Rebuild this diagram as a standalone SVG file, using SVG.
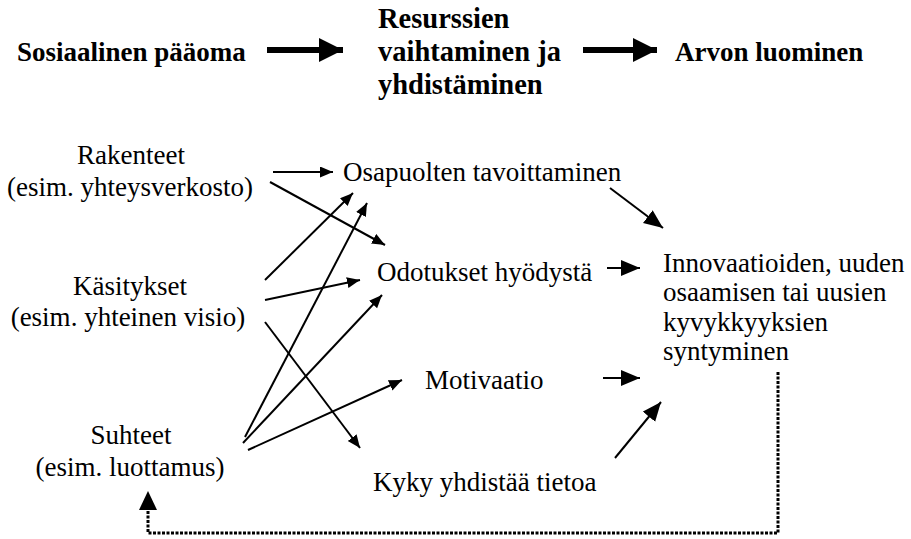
<svg xmlns="http://www.w3.org/2000/svg" width="911" height="539" viewBox="0 0 911 539">
  <style>
    .t { font-family: "Liberation Serif", "Times New Roman", serif; font-size: 27px; fill: #000; }
    .b { font-weight: bold; }
    .m { font-size: 28.5px; }
    .c { text-anchor: middle; }
    .e { stroke: #000; stroke-width: 2; fill: none; }
    .es { marker-end: url(#hs); }
    .el { marker-end: url(#hl); }
    .big { stroke: #000; stroke-width: 6; fill: none; marker-end: url(#hb); }
    .dot { stroke: #000; stroke-width: 3; fill: none; stroke-dasharray: 3 1.5; }
  </style>
  <defs>
    <marker id="hs" markerUnits="userSpaceOnUse" markerWidth="15" markerHeight="13" refX="13" refY="5.5" orient="auto">
      <path d="M0,0 L13,5.5 L0,11 Z" fill="#000"/>
    </marker>
    <marker id="hl" markerUnits="userSpaceOnUse" markerWidth="22" markerHeight="20" refX="19" refY="8" orient="auto">
      <path d="M0,0 L19,8 L0,16 Z" fill="#000"/>
    </marker>
    <marker id="hb" markerUnits="userSpaceOnUse" markerWidth="26" markerHeight="26" refX="24" refY="12" orient="auto">
      <path d="M0,0 L24,12 L0,24 Z" fill="#000"/>
    </marker>
  </defs>

  <!-- process header -->
  <g id="header">
    <text class="t b" x="17" y="61">Sosiaalinen pääoma</text>
    <text class="t b m" x="378" y="28">Resurssien</text>
    <text class="t b m" x="378" y="61">vaihtaminen ja</text>
    <text class="t b m" x="378" y="94">yhdistäminen</text>
    <text class="t b" x="675" y="61">Arvon luominen</text>
    <line class="big" x1="267" y1="50" x2="343" y2="50"/>
    <line class="big" x1="583" y1="50" x2="657" y2="50"/>
  </g>

  <!-- dimensions of social capital -->
  <g id="rakenteet">
    <text class="t c" x="131" y="164">Rakenteet</text>
    <text class="t c" x="130" y="196">(esim. yhteysverkosto)</text>
  </g>
  <g id="kasitykset">
    <text class="t c" x="130" y="295">Käsitykset</text>
    <text class="t c" x="128" y="326">(esim. yhteinen visio)</text>
  </g>
  <g id="suhteet">
    <text class="t c" x="131" y="444">Suhteet</text>
    <text class="t c" x="130" y="476">(esim. luottamus)</text>
  </g>

  <!-- mechanisms -->
  <g id="osapuolten">
    <text class="t" x="343" y="181">Osapuolten tavoittaminen</text>
  </g>
  <g id="odotukset">
    <text class="t" x="377" y="281">Odotukset hyödystä</text>
  </g>
  <g id="motivaatio">
    <text class="t" x="425" y="389">Motivaatio</text>
  </g>
  <g id="kyky">
    <text class="t" x="373" y="491">Kyky yhdistää tietoa</text>
  </g>

  <!-- outcome -->
  <g id="innovaatiot">
    <text class="t" x="663" y="272">Innovaatioiden, uuden</text>
    <text class="t" x="663" y="301">osaamisen tai uusien</text>
    <text class="t" x="663" y="331">kyvykkyyksien</text>
    <text class="t" x="663" y="360">syntyminen</text>
  </g>

  <g id="connectors">
    <line class="e es" x1="273" y1="172" x2="333" y2="172"/>
    <line class="e es" x1="270" y1="182" x2="385" y2="245"/>
    <line class="e es" x1="265" y1="280" x2="353" y2="193"/>
    <line class="e es" x1="265" y1="300" x2="360" y2="280"/>
    <line class="e es" x1="265" y1="322" x2="360" y2="448"/>
    <line class="e es" x1="245" y1="437" x2="367" y2="203"/>
    <line class="e es" x1="243" y1="443" x2="382" y2="295"/>
    <line class="e es" x1="248" y1="450" x2="402" y2="380"/>
    <line class="e el" x1="610" y1="188" x2="663" y2="228"/>
    <line class="e el" x1="607" y1="268" x2="640" y2="268"/>
    <line class="e el" x1="603" y1="378" x2="640" y2="378"/>
    <line class="e el" x1="615" y1="458" x2="661" y2="402"/>
    <!-- feedback loop -->
    <path class="dot" d="M778,372 V533 H148 V508"/>
    <path d="M148,491 L157,510 L139,510 Z" fill="#000"/>
  </g>
</svg>
